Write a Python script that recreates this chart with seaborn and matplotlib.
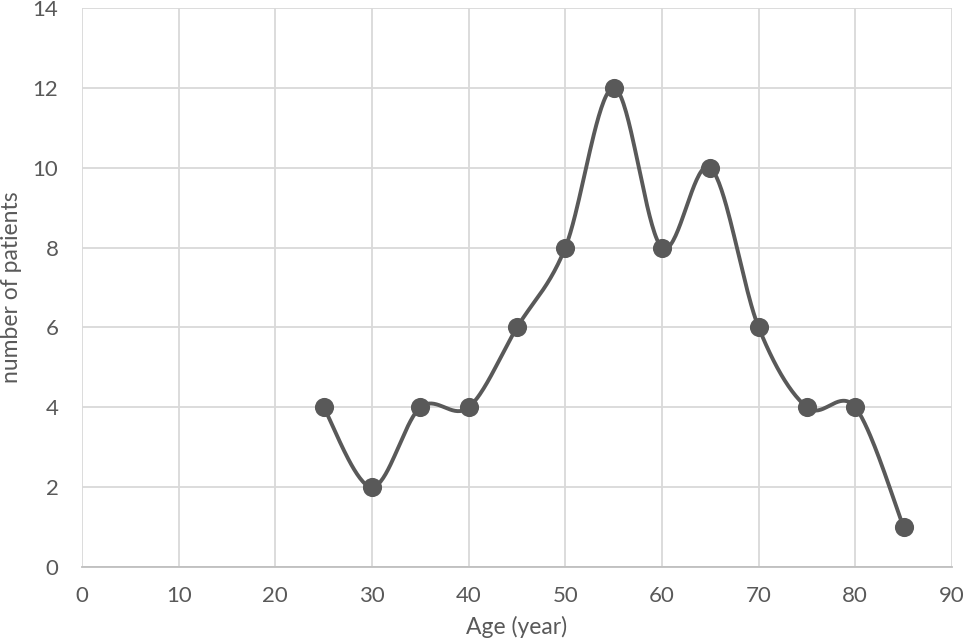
import numpy as np
import pandas as pd
import matplotlib
matplotlib.use("Agg")
import matplotlib.pyplot as plt
import seaborn as sns

ages = [25, 30, 35, 40, 45, 50, 55, 60, 65, 70, 75, 80, 85]
patients = [4, 2, 4, 4, 6, 8, 12, 8, 10, 6, 4, 4, 1]
x_ticks = [0, 10, 20, 30, 40, 50, 60, 70, 80, 90]
y_ticks = [0, 2, 4, 6, 8, 10, 12, 14]

sns.set_theme(style="white")
plt.rcParams['font.family'] = ['Lato', 'DejaVu Sans']

df = pd.DataFrame({"age": ages, "patients": patients})


def smooth_curve(xs, ys, n=40):
    # Excel-like smoothed line: Catmull-Rom style cubic Bezier through points
    xs = np.asarray(xs, float)
    ys = np.asarray(ys, float)
    px, py = [], []
    m = len(xs)
    for i in range(m - 1):
        x0, y0 = (xs[i - 1], ys[i - 1]) if i > 0 else (xs[i], ys[i])
        x1, y1 = xs[i], ys[i]
        x2, y2 = xs[i + 1], ys[i + 1]
        x3, y3 = (xs[i + 2], ys[i + 2]) if i + 2 < m else (xs[i + 1], ys[i + 1])
        c1x = x1 + (x2 - x0) / 6
        c1y = y1 + (y2 - y0) / 6
        c2x = x2 - (x3 - x1) / 6
        c2y = y2 - (y3 - y1) / 6
        t = np.linspace(0, 1, n)
        bx = (1 - t) ** 3 * x1 + 3 * (1 - t) ** 2 * t * c1x + 3 * (1 - t) * t ** 2 * c2x + t ** 3 * x2
        by = (1 - t) ** 3 * y1 + 3 * (1 - t) ** 2 * t * c1y + 3 * (1 - t) * t ** 2 * c2y + t ** 3 * y2
        px.extend(bx)
        py.extend(by)
    return np.array(px), np.array(py)


fig = plt.figure(figsize=(9.65, 6.4), dpi=100)
ax = fig.add_axes([0.085, 0.114, 0.9015, 0.8735])

sx, sy = smooth_curve(df["age"], df["patients"])
ax.plot(sx, sy, color="#595959", lw=2.8, zorder=3, solid_capstyle="round")
sns.scatterplot(data=df, x="age", y="patients", ax=ax, color="#595959",
                s=190, edgecolor="#595959", linewidth=0, zorder=4)

ax.set_xlim(0, 90)
ax.set_ylim(0, 14)
ax.set_xticks(x_ticks)
ax.set_yticks(y_ticks)
ax.grid(True, color="#d9d9d9", lw=1.3)
ax.set_axisbelow(True)
for s in ["top", "right", "left"]:
    ax.spines[s].set_visible(False)
ax.spines["bottom"].set_color("#bfbfbf")
ax.spines["bottom"].set_linewidth(1.3)
ax.tick_params(axis="both", length=0, labelsize=16, colors="#595959")
ax.tick_params(axis="x", pad=14)
ax.tick_params(axis="y", pad=17)
ax.set_xlabel("Age (year)", fontsize=16.5, color="#595959", va="center")
ax.set_ylabel("number of patients", fontsize=16.5, color="#595959", va="center")
ax.xaxis.set_label_coords(0.5, -0.107)
ax.yaxis.set_label_coords(-0.081, 0.5)

fig.savefig("out.png", dpi=100)
